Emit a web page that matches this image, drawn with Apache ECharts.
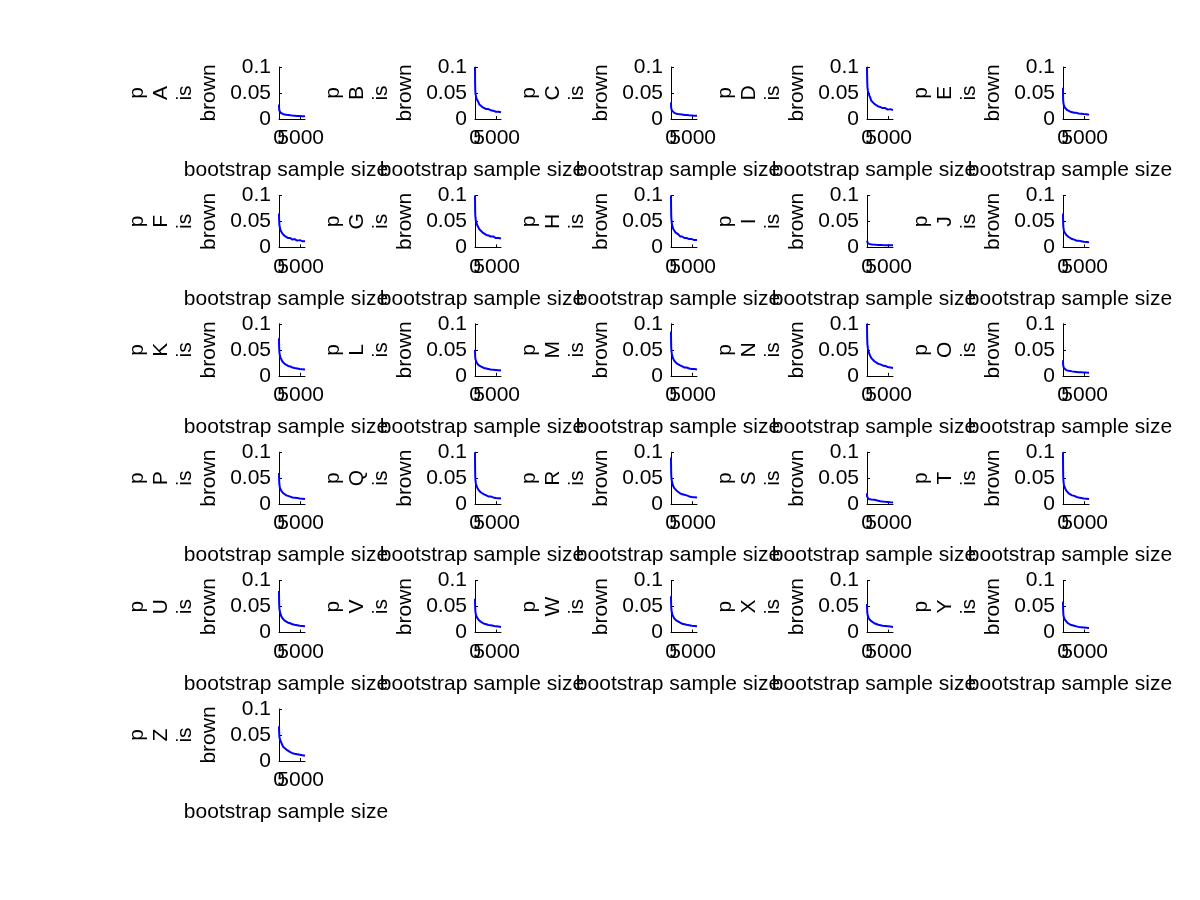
<!DOCTYPE html>
<html>
<head>
<meta charset="utf-8">
<script src="https://cdn.jsdelivr.net/npm/echarts@6/dist/echarts.min.js"></script>
<style>html,body{margin:0;padding:0;background:#fff;}#c{width:1200px;height:900px;}</style>
</head>
<body>
<div id="c"></div>
<script>
const letters = ['A','B','C','D','E','F','G','H','I','J','K','L','M','N','O','P','Q','R','S','T','U','V','W','X','Y','Z'];
const sampleSizes = [0,20,50,100,200,350,500,750,1000,1300,1700,2100,2600,3100,3600,4200,4800,5400,6000];
const xTicks = [0, 5000];
const yTicks = [0, 0.05, 0.1];
const xLabelText = 'bootstrap sample size';

const pA = [0.028,0.021,0.018,0.016,0.0135,0.012,0.0112,0.0098,0.0092,0.0084,0.0081,0.0074,0.0071,0.0066,0.0064,0.0059,0.0058,0.0054,0.0053];
const pB = [0.100,0.074,0.059,0.049,0.045,0.039,0.036,0.033,0.028,0.027,0.023,0.022,0.019,0.019,0.017,0.016,0.014,0.014,0.013];
const pC = [0.032,0.025,0.021,0.018,0.0165,0.014,0.0132,0.0118,0.0111,0.0099,0.0096,0.0089,0.0086,0.0079,0.0076,0.0071,0.0069,0.0064,0.0062];
const pD = [0.100,0.086,0.074,0.061,0.055,0.049,0.046,0.041,0.035,0.034,0.029,0.028,0.024,0.023,0.021,0.021,0.018,0.019,0.017];
const pE = [0.060,0.041,0.034,0.031,0.026,0.024,0.021,0.020,0.017,0.016,0.014,0.0135,0.012,0.0118,0.0105,0.0102,0.0094,0.0092,0.0082];
const pF = [0.065,0.055,0.049,0.042,0.039,0.033,0.031,0.027,0.026,0.022,0.021,0.018,0.018,0.015,0.016,0.013,0.014,0.012,0.012];
const pG = [0.100,0.081,0.064,0.058,0.051,0.048,0.043,0.040,0.035,0.034,0.029,0.028,0.024,0.023,0.021,0.021,0.018,0.018,0.017];
const pH = [0.100,0.079,0.061,0.054,0.045,0.042,0.036,0.034,0.029,0.027,0.025,0.021,0.021,0.018,0.018,0.016,0.016,0.014,0.014];
const pI = [0.013,0.011,0.0095,0.0085,0.0078,0.0072,0.0066,0.0062,0.0058,0.0055,0.0052,0.0050,0.0048,0.0046,0.0044,0.0043,0.0042,0.0041,0.0040];
const pJ = [0.065,0.052,0.044,0.038,0.033,0.029,0.027,0.024,0.021,0.020,0.017,0.016,0.015,0.013,0.013,0.012,0.011,0.0105,0.010];
const pK = [0.072,0.060,0.051,0.045,0.039,0.035,0.032,0.028,0.026,0.023,0.021,0.019,0.018,0.016,0.015,0.014,0.013,0.0125,0.012];
const pL = [0.050,0.042,0.036,0.032,0.029,0.026,0.024,0.021,0.020,0.018,0.016,0.015,0.014,0.013,0.012,0.0115,0.011,0.0105,0.010];
const pM = [0.085,0.068,0.055,0.048,0.042,0.037,0.033,0.029,0.027,0.024,0.021,0.020,0.018,0.016,0.016,0.014,0.013,0.013,0.012];
const pN = [0.100,0.085,0.070,0.060,0.053,0.047,0.043,0.038,0.034,0.031,0.028,0.026,0.023,0.022,0.020,0.019,0.017,0.016,0.015];
const pO = [0.030,0.024,0.020,0.017,0.015,0.013,0.0125,0.011,0.0105,0.0095,0.009,0.0085,0.008,0.0075,0.007,0.0068,0.0065,0.0062,0.006];
const pP = [0.060,0.050,0.043,0.037,0.032,0.029,0.026,0.023,0.021,0.019,0.017,0.016,0.0145,0.013,0.0125,0.0118,0.011,0.0105,0.010];
const pQ = [0.100,0.072,0.056,0.047,0.040,0.035,0.032,0.028,0.025,0.023,0.020,0.019,0.017,0.015,0.015,0.013,0.012,0.0115,0.011];
const pR = [0.090,0.072,0.058,0.050,0.044,0.039,0.035,0.031,0.028,0.026,0.023,0.021,0.019,0.018,0.017,0.015,0.014,0.0135,0.013];
const pS = [0.021,0.015,0.013,0.0115,0.0105,0.0098,0.0095,0.0092,0.0089,0.0087,0.0085,0.0075,0.0065,0.0058,0.0052,0.0046,0.0041,0.0037,0.0034];
const pT = [0.100,0.070,0.054,0.045,0.038,0.033,0.030,0.026,0.023,0.021,0.019,0.017,0.016,0.014,0.013,0.012,0.011,0.0105,0.010];
const pU = [0.080,0.064,0.053,0.046,0.040,0.036,0.032,0.028,0.026,0.023,0.021,0.019,0.018,0.016,0.015,0.014,0.013,0.0125,0.012];
const pV = [0.065,0.054,0.046,0.040,0.035,0.031,0.028,0.025,0.023,0.021,0.019,0.017,0.016,0.0145,0.014,0.013,0.012,0.0115,0.011];
const pW = [0.070,0.058,0.050,0.044,0.038,0.034,0.031,0.027,0.025,0.023,0.021,0.019,0.017,0.016,0.015,0.014,0.013,0.0125,0.012];
const pX = [0.055,0.047,0.041,0.036,0.032,0.029,0.026,0.024,0.022,0.020,0.018,0.017,0.015,0.014,0.013,0.0125,0.012,0.0115,0.011];
const pY = [0.060,0.048,0.040,0.034,0.029,0.026,0.024,0.021,0.019,0.017,0.015,0.014,0.013,0.012,0.011,0.0105,0.010,0.0095,0.009];
const pZ = [0.067,0.059,0.053,0.046,0.042,0.039,0.036,0.031,0.027,0.025,0.022,0.019,0.017,0.015,0.014,0.013,0.012,0.011,0.010];

const seriesData = [pA,pB,pC,pD,pE,pF,pG,pH,pI,pJ,pK,pL,pM,pN,pO,pP,pQ,pR,pS,pT,pU,pV,pW,pX,pY,pZ];

const FONT = 'Liberation Sans, Arial, Helvetica, sans-serif';
const FS = 21;
const grids = [], xAxes = [], yAxes = [], series = [];
letters.forEach((L, i) => {
  const r = Math.floor(i / 5), c = i % 5;
  grids.push({left: 279 + c * 196, top: 67 + r * 128.4, width: 26, height: 52, containLabel: false});
  // main x axis: line, ticks, label for 0, axis title
  xAxes.push({
    type: 'value', gridIndex: i, min: 0, max: 6000, position: 'bottom',
    name: xLabelText, nameLocation: 'middle', nameGap: 41,
    nameTextStyle: {fontFamily: FONT, fontSize: FS, color: '#000', padding: [0, 12, 0, 0]},
    axisLine: {show: true, onZero: false, lineStyle: {color: '#000', width: 1}},
    axisTick: {show: true, inside: true, length: 3, customValues: xTicks, lineStyle: {color: '#000'}},
    axisLabel: {show: true, customValues: [xTicks[0]], showMinLabel: true, margin: 9,
      formatter: v => String(v), fontFamily: FONT, fontSize: FS, color: '#000', hideOverlap: false},
    splitLine: {show: false}
  });
  // companion x axis on the same grid carrying the 5000 label (overlaps like the original)
  xAxes.push({
    type: 'value', gridIndex: i, min: 0, max: 6000, position: 'bottom', offset: 0,
    axisLine: {show: false, onZero: false},
    axisTick: {show: false},
    axisLabel: {show: true, customValues: [xTicks[1]], margin: 9,
      formatter: v => String(v), fontFamily: FONT, fontSize: FS, color: '#000', hideOverlap: false},
    splitLine: {show: false}
  });
  yAxes.push({
    type: 'value', gridIndex: i, min: 0, max: 0.1, interval: 0.05,
    name: 'p\n' + L + '\nis\nbrown', nameLocation: 'middle', nameRotate: 90, nameGap: 58,
    nameTextStyle: {fontFamily: FONT, fontSize: FS, color: '#000', lineHeight: 24, align: 'center'},
    axisLine: {show: true, onZero: false, lineStyle: {color: '#000', width: 1}},
    axisTick: {show: true, inside: true, length: 3, customValues: yTicks, lineStyle: {color: '#000'}},
    axisLabel: {show: true, customValues: yTicks, margin: 8, formatter: v => String(v),
      fontFamily: FONT, fontSize: FS, color: '#000', hideOverlap: false},
    splitLine: {show: false}
  });
  series.push({
    type: 'line', xAxisIndex: 2 * i, yAxisIndex: i,
    data: sampleSizes.map((x, k) => [x, seriesData[i][k]]),
    showSymbol: false, symbol: 'none', animation: false, clip: true,
    lineStyle: {color: '#0000ff', width: 2}
  });
});

const chart = echarts.init(document.getElementById('c'), null, {renderer: 'canvas'});
chart.setOption({
  backgroundColor: '#fff',
  animation: false,
  grid: grids, xAxis: xAxes, yAxis: yAxes, series: series
});
</script>
</body>
</html>
